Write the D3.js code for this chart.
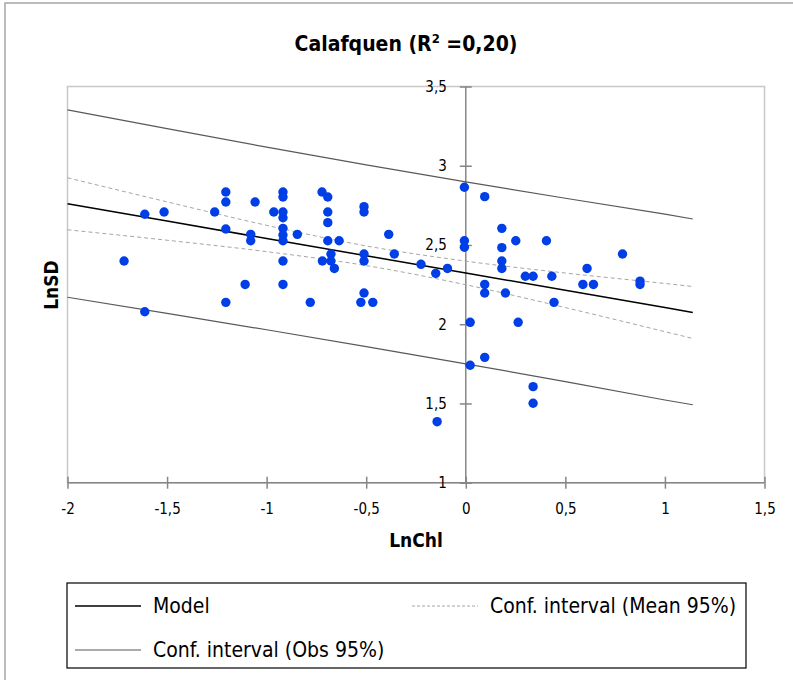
<!DOCTYPE html>
<html>
  <head>
    <script src="https://cdnjs.cloudflare.com/ajax/libs/d3/7.8.5/d3.min.js"></script>
<style>
  body { margin: 0; background: #fff; }
  .tick text { font-family: "Liberation Sans Narrow", "DejaVu Sans Condensed", sans-serif; font-size: 15px; fill: #000; }
  .legend text { font-family: "Liberation Sans Narrow", "DejaVu Sans Condensed", sans-serif; font-size: 21px; fill: #000; }
  .ttl { font-family: "Liberation Sans Narrow", "DejaVu Sans Condensed", sans-serif; font-weight: bold; fill: #000; }
</style>
  </head>
  <body>
    <div id="vis"></div>
    <script type="text/javascript">

      const w = 793;
      const h = 680;

      // observations (LnChl, LnSD)
      const chlX = [-1.205, -1.205, -1.058, -1.612, -1.515, -1.261, -1.205, -1.080, -1.080, -1.716, -1.108, -1.205, -1.612,
                    -0.918, -0.918, -0.722, -0.693, -0.964, -0.918, -0.918, -0.693, -0.693, -0.511, -0.511, -0.918, -0.918,
                    -0.918, -0.846, -0.693, -0.636, -0.387, -0.007, -0.007, -0.007, -0.677, -0.720, -0.677, -0.660, -0.511,
                    -0.511, -0.359, -0.918, -0.918, -0.225, -0.151, -0.092, -0.781, -0.511, -0.527, -0.467,
                    0.095, 0.181, 0.251, 0.405, 0.181, 0.787, 0.181, 0.181, 0.609, 0.299, 0.338, 0.432, 0.095, 0.095,
                    0.199, 0.588, 0.641, 0.875, 0.875, 0.443, 0.022, 0.263, 0.095, 0.022, 0.338, 0.338, -0.144];
      const sdY  = [2.834, 2.771, 2.771, 2.694, 2.708, 2.708, 2.601, 2.567, 2.527, 2.399, 2.251, 2.138, 2.079,
                    2.834, 2.803, 2.834, 2.803, 2.708, 2.708, 2.672, 2.708, 2.641, 2.742, 2.708, 2.605, 2.563,
                    2.527, 2.567, 2.527, 2.527, 2.567, 2.864, 2.527, 2.486, 2.443, 2.399, 2.399, 2.352, 2.443,
                    2.399, 2.443, 2.399, 2.251, 2.378, 2.321, 2.352, 2.138, 2.197, 2.138, 2.138,
                    2.805, 2.605, 2.527, 2.527, 2.483, 2.443, 2.399, 2.352, 2.352, 2.303, 2.303, 2.303, 2.251, 2.197,
                    2.197, 2.251, 2.251, 2.272, 2.251, 2.138, 2.012, 2.012, 1.791, 1.741, 1.606, 1.501, 1.385];

      // model and confidence bands, read at these LnChl values
      const lineX     = [-2, -1.5, -1, -0.5, 0, 0.5, 1, 1.14];
      const modelY    = [2.760, 2.651, 2.541, 2.432, 2.323, 2.214, 2.105, 2.074];
      const meanUpper = [2.924, 2.772, 2.624, 2.494, 2.398, 2.323, 2.257, 2.238];
      const meanLower = [2.596, 2.530, 2.458, 2.370, 2.249, 2.105, 1.953, 1.910];
      const obsUpper  = [3.353, 3.234, 3.117, 3.006, 2.898, 2.795, 2.695, 2.664];
      const obsLower  = [2.170, 2.068, 1.965, 1.859, 1.750, 1.638, 1.522, 1.492];

      const xTicks = [-2, -1.5, -1, -0.5, 0, 0.5, 1, 1.5];
      const yTicks = [1, 1.5, 2, 2.5, 3, 3.5];
      const fmt = d => String(d).replace(".", ",");

      const svg = d3.select("#vis")
          .append("svg")
          .attr("width", w)
          .attr("height", h);

      svg.append("rect").attr("width", w).attr("height", h).attr("fill", "#fff");
      // chart frame
      svg.append("rect")
          .attr("x", 5).attr("y", 3)
          .attr("width", w + 20).attr("height", h + 20)
          .attr("fill", "none").attr("stroke", "#a6a6a6").attr("stroke-width", 1.5);

      const xScale = d3.scaleLinear().domain([-2, 1.5]).range([67.5, 764.5]);
      const yScale = d3.scaleLinear().domain([1, 3.5]).range([482.7, 86.5]);

      // plot area
      svg.append("rect")
          .attr("x", xScale(-2)).attr("y", yScale(3.5))
          .attr("width", xScale(1.5) - xScale(-2))
          .attr("height", yScale(1) - yScale(3.5))
          .attr("fill", "none").attr("stroke", "#c8c8c8").attr("stroke-width", 1.5);

      const xAxis = d3.axisBottom(xScale).tickValues(xTicks).tickFormat(fmt).tickSize(6).tickPadding(15);
      const yAxis = d3.axisLeft(yScale).tickValues(yTicks).tickFormat(fmt).tickSize(6).tickPadding(13);

      const gx = svg.append("g")
          .attr("transform", "translate(0," + yScale(1) + ")")
          .call(xAxis);
      gx.selectAll(".tick line").attr("y1", -6);
      const gy = svg.append("g")
          .attr("transform", "translate(" + xScale(0) + ",0)")
          .call(yAxis);
      gy.selectAll(".tick line").attr("x1", 6);
      svg.selectAll(".domain, .tick line").attr("stroke", "#868686").attr("stroke-width", 1.5);
      gx.selectAll(".domain").attr("d", "M" + xScale(-2) + ",0H" + xScale(1.5));
      gy.selectAll(".domain").attr("d", "M0," + yScale(1) + "V" + yScale(3.5));

      const line = d3.line()
          .x((d, i) => xScale(lineX[i]))
          .y(d => yScale(d));

      svg.append("path").datum(obsUpper).attr("d", line)
          .attr("fill", "none").attr("stroke", "#595959").attr("stroke-width", 1.2);
      svg.append("path").datum(obsLower).attr("d", line)
          .attr("fill", "none").attr("stroke", "#595959").attr("stroke-width", 1.2);
      svg.append("path").datum(meanUpper).attr("d", d3.line().curve(d3.curveMonotoneX).x((d, i) => xScale(lineX[i])).y(d => yScale(d)))
          .attr("fill", "none").attr("stroke", "#a6a6a6").attr("stroke-width", 1).attr("stroke-dasharray", "4,3");
      svg.append("path").datum(meanLower).attr("d", d3.line().curve(d3.curveMonotoneX).x((d, i) => xScale(lineX[i])).y(d => yScale(d)))
          .attr("fill", "none").attr("stroke", "#a6a6a6").attr("stroke-width", 1).attr("stroke-dasharray", "4,3");
      svg.append("path").datum(modelY).attr("d", line)
          .attr("fill", "none").attr("stroke", "#000").attr("stroke-width", 1.5);

      svg.append("g").selectAll("circle")
          .data(chlX)
          .join("circle")
          .attr("cx", d => xScale(d))
          .attr("cy", (d, i) => yScale(sdY[i]))
          .attr("r", 4.7)
          .attr("fill", "#003ee6");

      // titles
      const title = svg.append("text").attr("class", "ttl")
          .attr("x", 406).attr("y", 51)
          .attr("text-anchor", "middle").attr("font-size", 21);
      title.append("tspan").text("Calafquen (R");
      title.append("tspan").attr("dy", -8).attr("font-size", 13).text("2");
      title.append("tspan").attr("dy", 8).text(" =0,20)");

      svg.append("text").attr("class", "ttl")
          .attr("x", 416).attr("y", 547)
          .attr("text-anchor", "middle").attr("font-size", 19)
          .text("LnChl");
      svg.append("text").attr("class", "ttl")
          .attr("transform", "translate(58,285) rotate(-90)")
          .attr("text-anchor", "middle").attr("font-size", 19)
          .text("LnSD");

      // legend
      const lg = svg.append("g").attr("class", "legend");
      lg.append("rect")
          .attr("x", 67).attr("y", 583).attr("width", 679).attr("height", 85)
          .attr("fill", "#fff").attr("stroke", "#000").attr("stroke-width", 1.2);
      const items = [
        {name: "Model", x: 75, y: 606, stroke: "#000", width: 1.5, dash: null},
        {name: "Conf. interval (Mean 95%)", x: 412, y: 606, stroke: "#a6a6a6", width: 1, dash: "3,2"},
        {name: "Conf. interval (Obs 95%)", x: 75, y: 650, stroke: "#595959", width: 1.2, dash: null}
      ];
      items.forEach(it => {
        lg.append("line")
            .attr("x1", it.x).attr("x2", it.x + 66)
            .attr("y1", it.y).attr("y2", it.y)
            .attr("stroke", it.stroke).attr("stroke-width", it.width)
            .attr("stroke-dasharray", it.dash);
        lg.append("text")
            .attr("x", it.x + 78).attr("y", it.y)
            .attr("dy", "0.35em")
            .text(it.name);
      });

    </script>
  </body>
</html>
